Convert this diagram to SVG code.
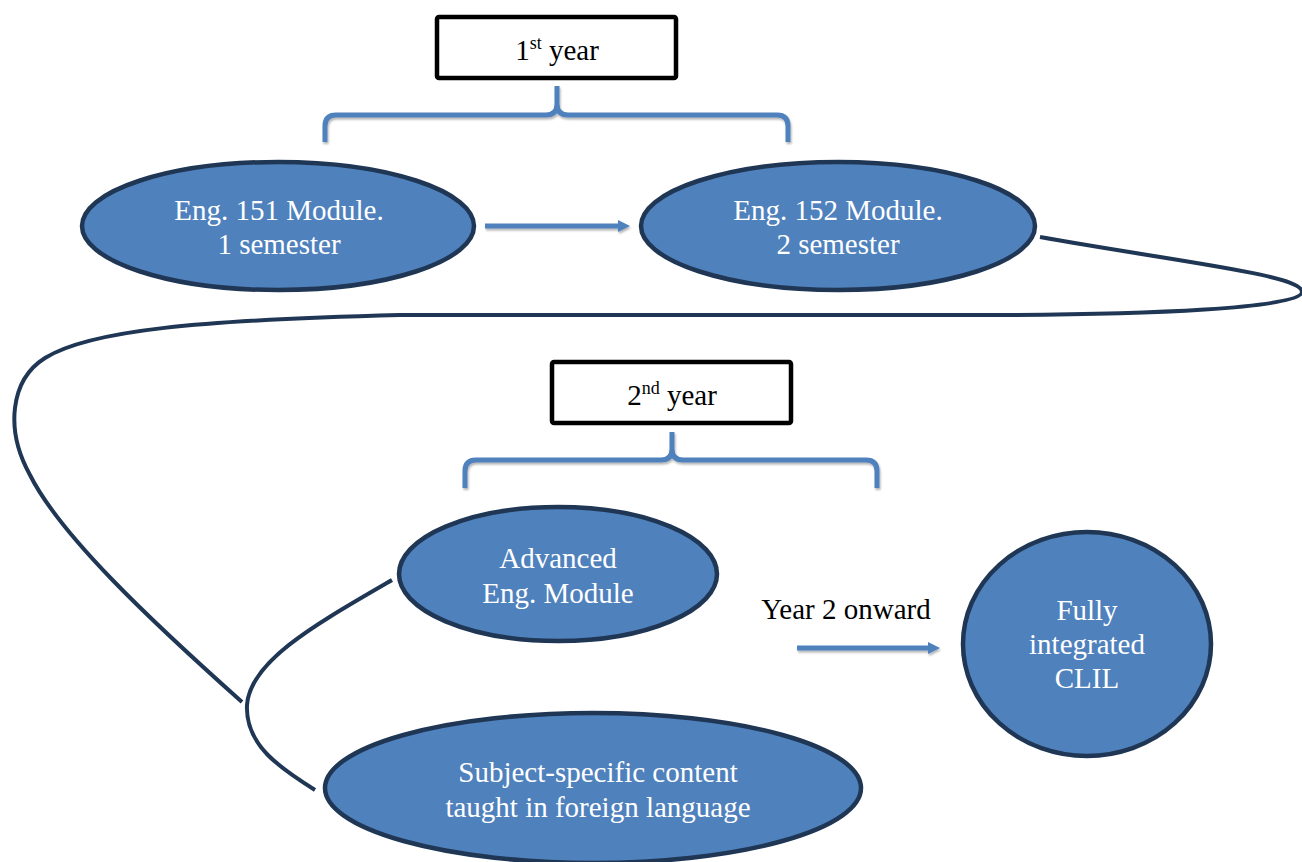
<svg xmlns="http://www.w3.org/2000/svg" width="1302" height="862" viewBox="0 0 1302 862">
  <defs>
    <filter id="sh" filterUnits="userSpaceOnUse" x="0" y="0" width="1302" height="862">
      <feDropShadow dx="1" dy="2" stdDeviation="1.2" flood-color="#000" flood-opacity="0.3"/>
    </filter>
    <marker id="ah" markerUnits="userSpaceOnUse" markerWidth="14" markerHeight="14" refX="2" refY="7" orient="auto">
      <path d="M0,1 L12,7 L0,13 Z" fill="#4f81bd"/>
    </marker>
  </defs>
  <style>
    .node { fill: #4f81bd; stroke: #1f3654; stroke-width: 4.5; }
    .box { fill: #ffffff; stroke: #000000; stroke-width: 4.5; }
    .brace { fill: none; stroke: #4f81bd; stroke-width: 5; stroke-linecap: butt; filter: url(#sh); }
    .arrow { fill: none; stroke: #4f81bd; stroke-width: 5; marker-end: url(#ah); filter: url(#sh); }
    .conn { fill: none; stroke: #1f3654; stroke-width: 4; }
    .t { font-family: 'Liberation Serif', 'DejaVu Serif', serif; font-size: 29px; text-anchor: middle; }
    .w { fill: #ffffff; }
    .k { fill: #000000; }
  </style>

  <g id="connectors">
    <path class="conn" d="M1040,237 C1180,262 1302,275 1302,292 C1302,308 1150,315 980,315 L400,315 C200,320 90,330 45,358 C10,380 5,430 30,475 C60,535 150,620 242,702"/>
    <path class="conn" d="M392,580 C320,622 250,660 247,705 C245,745 280,768 315,790"/>
    <path class="arrow" d="M485,226 L620,226"/>
    <path class="arrow" d="M797,648 L930,648"/>
  </g>

  <g id="year1">
    <rect class="box" x="437" y="17" width="239" height="61" rx="2"/>
    <text class="t k" font-family="Liberation Serif, serif" x="557" y="60">1<tspan font-size="18" dy="-11">st</tspan><tspan dy="11"> year</tspan></text>
  </g>
  <g id="brace1">
    <path class="brace" d="M325,142 L325,126 Q325,115 336,115 L546,115 Q557,115 557,104 L557,86 M557,104 Q557,115 568,115 L777,115 Q788,115 788,126 L788,142"/>
  </g>

  <g id="eng151">
    <ellipse class="node" cx="278" cy="226" rx="196" ry="64"/>
    <text class="t w" font-family="Liberation Serif, serif" x="279" y="220">Eng. 151 Module.</text>
    <text class="t w" font-family="Liberation Serif, serif" x="279" y="254">1 semester</text>
  </g>
  <g id="eng152">
    <ellipse class="node" cx="838" cy="226" rx="197" ry="64"/>
    <text class="t w" font-family="Liberation Serif, serif" x="838" y="220">Eng. 152 Module.</text>
    <text class="t w" font-family="Liberation Serif, serif" x="838" y="254">2 semester</text>
  </g>

  <g id="year2">
    <rect class="box" x="552" y="362" width="239" height="61" rx="2"/>
    <text class="t k" font-family="Liberation Serif, serif" x="672" y="405">2<tspan font-size="18" dy="-11">nd</tspan><tspan dy="11"> year</tspan></text>
  </g>
  <g id="brace2">
    <path class="brace" d="M465,488 L465,471 Q465,460 476,460 L661,460 Q672,460 672,449 L672,432 M672,449 Q672,460 683,460 L866,460 Q877,460 877,471 L877,488"/>
  </g>

  <g id="advanced">
    <ellipse class="node" cx="558" cy="574" rx="159" ry="67"/>
    <text class="t w" font-family="Liberation Serif, serif" x="558" y="568">Advanced</text>
    <text class="t w" font-family="Liberation Serif, serif" x="558" y="603">Eng. Module</text>
  </g>

  <g id="subject">
    <ellipse class="node" cx="593" cy="788" rx="268" ry="75"/>
    <text class="t w" font-family="Liberation Serif, serif" x="598" y="782">Subject-specific content</text>
    <text class="t w" font-family="Liberation Serif, serif" x="598" y="817">taught in foreign language</text>
  </g>

  <g id="label-year2-onward">
    <text class="t k" font-family="Liberation Serif, serif" x="846" y="619">Year 2 onward</text>
  </g>

  <g id="clil">
    <ellipse class="node" cx="1087" cy="644" rx="124" ry="112"/>
    <text class="t w" font-family="Liberation Serif, serif" x="1087" y="620">Fully</text>
    <text class="t w" font-family="Liberation Serif, serif" x="1087" y="654">integrated</text>
    <text class="t w" font-family="Liberation Serif, serif" x="1087" y="688">CLIL</text>
  </g>
</svg>
